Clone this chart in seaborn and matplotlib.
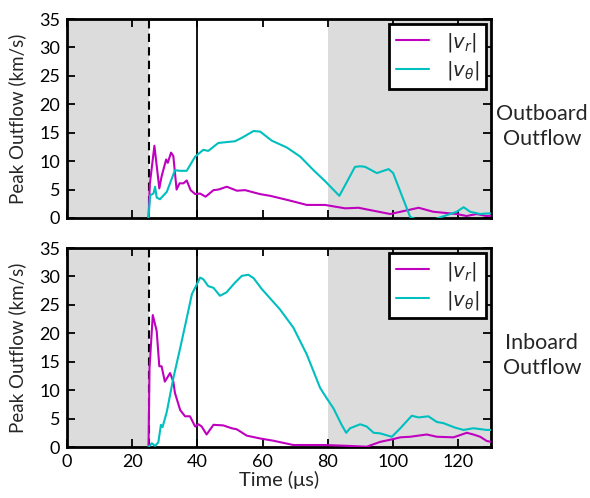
import numpy as np
import pandas as pd
import matplotlib
matplotlib.use("Agg")
import matplotlib.pyplot as plt
import seaborn as sns

# ---- data ----
out_vr_t = [25, 25.4, 26.8, 28.3, 29.0, 30.4, 30.9, 31.9, 32.6, 33.6, 34.5, 35.7, 36.7, 37.9, 39.3,
            40.8, 42.5, 44.9, 46.4, 49.0, 52.1, 54.6, 59.2, 62.3, 67.4, 71.5, 73.5, 79.1, 85.3,
            89.4, 92.0, 99.1, 107.8, 112.3, 119.5, 122.5, 125.6, 128.6, 130]
out_vr_v = [0, 6.0, 12.7, 5.2, 7.3, 10.3, 9.7, 11.5, 10.9, 5.0, 6.1, 6.1, 6.6, 4.9, 4.2,
            4.3, 3.75, 4.9, 5.0, 5.5, 4.8, 4.9, 4.2, 3.9, 3.2, 2.6, 2.3, 2.3, 1.7,
            1.8, 1.5, 0.7, 1.8, 1.1, 0.7, 0.35, 0.7, 0.35, 0.4]

out_vt_t = [25, 25.5, 26.5, 27.0, 27.5, 28.5, 30.6, 33.1, 34.7, 36.7, 39.3, 41.8, 43.3, 46.4,
            51.5, 53.6, 57.2, 59.2, 62.8, 67.4, 71.5, 75.6, 79.1, 83.5, 85.3, 88.3, 89.9,
            91.4, 95.0, 98.6, 100.0, 105.2, 108, 112.3, 119.5, 121.6, 123.6, 126.7, 128.7, 130]
out_vt_v = [0, 4.0, 4.3, 5.5, 3.6, 3.3, 4.6, 8.4, 8.3, 8.3, 10.8, 12.0, 11.8, 13.2,
            13.5, 14.1, 15.3, 15.2, 13.6, 12.4, 10.8, 8.4, 6.5, 3.9, 5.8, 9.0, 9.1,
            9.0, 7.9, 8.6, 7.9, 0.2, -0.5, -0.3, 1.1, 1.9, 1.1, 0.7, 0.8, 0.8]

in_vr_t = [25, 25.3, 26.3, 27.5, 28.3, 29.0, 30.0, 31.6, 32.6, 33.1, 34.7, 36.2, 37.7, 39.3,
           40.3, 41.3, 42.8, 44.9, 47.9, 50.5, 52.1, 55.1, 59.2, 63.3, 69.4, 75.6, 79.1,
           86.0, 91.9, 96.0, 100.1, 102.2, 105.2, 110.3, 113.4, 118.5, 122.6, 124.6, 126.7, 128.7, 130]
in_vr_v = [0, 13.9, 23.2, 20.4, 14.2, 14.2, 11.5, 13.0, 11.5, 9.5, 6.5, 5.4, 5.4, 3.6,
           4.0, 3.6, 2.2, 3.9, 3.8, 3.3, 3.1, 2.0, 1.5, 1.1, 0.35, 0.35, 0.35,
           0.2, 0.05, 0.9, 1.4, 1.7, 1.8, 2.2, 1.8, 1.7, 2.5, 2.2, 1.8, 1.06, 0.9]

in_vt_t = [25, 26.0, 27.0, 28.0, 28.8, 29.3, 30.6, 32.6, 34.7, 36.5, 38.3, 39.8, 40.8, 41.8,
           43.3, 44.9, 46.9, 48.9, 51.5, 53.6, 55.6, 57.2, 59.7, 65.3, 69.4, 73.5, 77.6,
           79.6, 81.7, 84.2, 85.6, 86.8, 89.9, 91.9, 94.0, 96.0, 99.6, 102.2, 105.7, 107.8,
           110.8, 113.4, 115.4, 119.0, 121.6, 124.6, 128.7, 130]
in_vt_v = [0, 0.65, 0.2, 0.8, 3.9, 3.5, 6.2, 12.1, 17.4, 22.1, 26.9, 28.6, 29.8, 29.5,
           28.3, 28.0, 26.6, 27.2, 28.9, 30.1, 30.3, 29.7, 27.8, 24.2, 21.0, 16.3, 10.4,
           8.6, 6.8, 3.9, 2.5, 3.3, 4.0, 3.6, 2.5, 2.4, 1.8, 3.3, 5.5, 5.2,
           5.4, 4.4, 4.2, 3.4, 3.0, 3.3, 3.0, 3.0]

x_ticks = [0, 20, 40, 60, 80, 100, 120]
y_ticks = [0, 5, 10, 15, 20, 25, 30, 35]
series_labels = [r"$|v_r|$", r"$|v_\theta|$"]
panel_labels = ["Outboard\nOutflow", "Inboard\nOutflow"]

sns.set_theme(style="white")
plt.rcParams["font.family"] = ["Lato", "DejaVu Sans"]
plt.rcParams["mathtext.fontset"] = "dejavusans"

fig = plt.figure(figsize=(5.9, 4.98), dpi=100)
W, H = 590, 498
ax_top = fig.add_axes([67 / W, 1 - 218 / H, (491 - 67) / W, (218 - 19) / H])
ax_bot = fig.add_axes([67 / W, 1 - 447 / H, (491 - 67) / W, (447 - 248) / H])

colors = [(0.75, 0, 0.75), (0, 0.75, 0.75)]

panels = [
    (ax_top, (out_vr_t, out_vr_v), (out_vt_t, out_vt_v)),
    (ax_bot, (in_vr_t, in_vr_v), (in_vt_t, in_vt_v)),
]

for i, (ax, vr, vt) in enumerate(panels):
    df = pd.concat([
        pd.DataFrame({"t": vr[0], "v": vr[1], "s": series_labels[0]}),
        pd.DataFrame({"t": vt[0], "v": vt[1], "s": series_labels[1]}),
    ])
    ax.axvspan(0, 25, color="#dcdcdc", lw=0, zorder=0)
    ax.axvspan(80, 130, color="#dcdcdc", lw=0, zorder=0)
    ax.axvline(25, color="black", ls=(0, (4, 2.5)), lw=1.5, zorder=1)
    ax.axvline(40, color="black", lw=1.3, zorder=1)
    sns.lineplot(data=df, x="t", y="v", hue="s", palette=colors, ax=ax,
                 lw=1.5, estimator=None, sort=False, zorder=3)
    ax.set_xlim(0, 130)
    ax.set_ylim(0, 35)
    ax.set_xticks(x_ticks)
    ax.set_yticks(y_ticks)
    ax.tick_params(direction="in", length=6, width=1.3, top=True, right=True,
                   bottom=True, left=True, labelsize=13, pad=5, colors="black")
    for sp in ax.spines.values():
        sp.set_linewidth(2)
        sp.set_color("black")
    ax.set_ylabel("Peak Outflow (km/s)", fontsize=13.5)
    ax.yaxis.set_label_coords(-0.097, 0.5)
    leg = ax.legend(loc="upper right", fontsize=14, frameon=True, fancybox=False,
                    borderaxespad=0.25, handlelength=1.7, handletextpad=0.9,
                    borderpad=0.35, labelspacing=0.3, title=None)
    leg.get_frame().set_edgecolor("black")
    leg.get_frame().set_facecolor("white")
    leg.get_frame().set_alpha(1)
    leg.get_frame().set_linewidth(2)
    ax.text(1.12, 0.46, panel_labels[i], transform=ax.transAxes, ha="center",
            va="center", fontsize=15.5, linespacing=1.35)

ax_top.set_xlabel("")
ax_top.tick_params(labelbottom=False)
ax_bot.set_xlabel("Time (μs)", fontsize=14.5, labelpad=1)

fig.savefig("out.png", dpi=100)
